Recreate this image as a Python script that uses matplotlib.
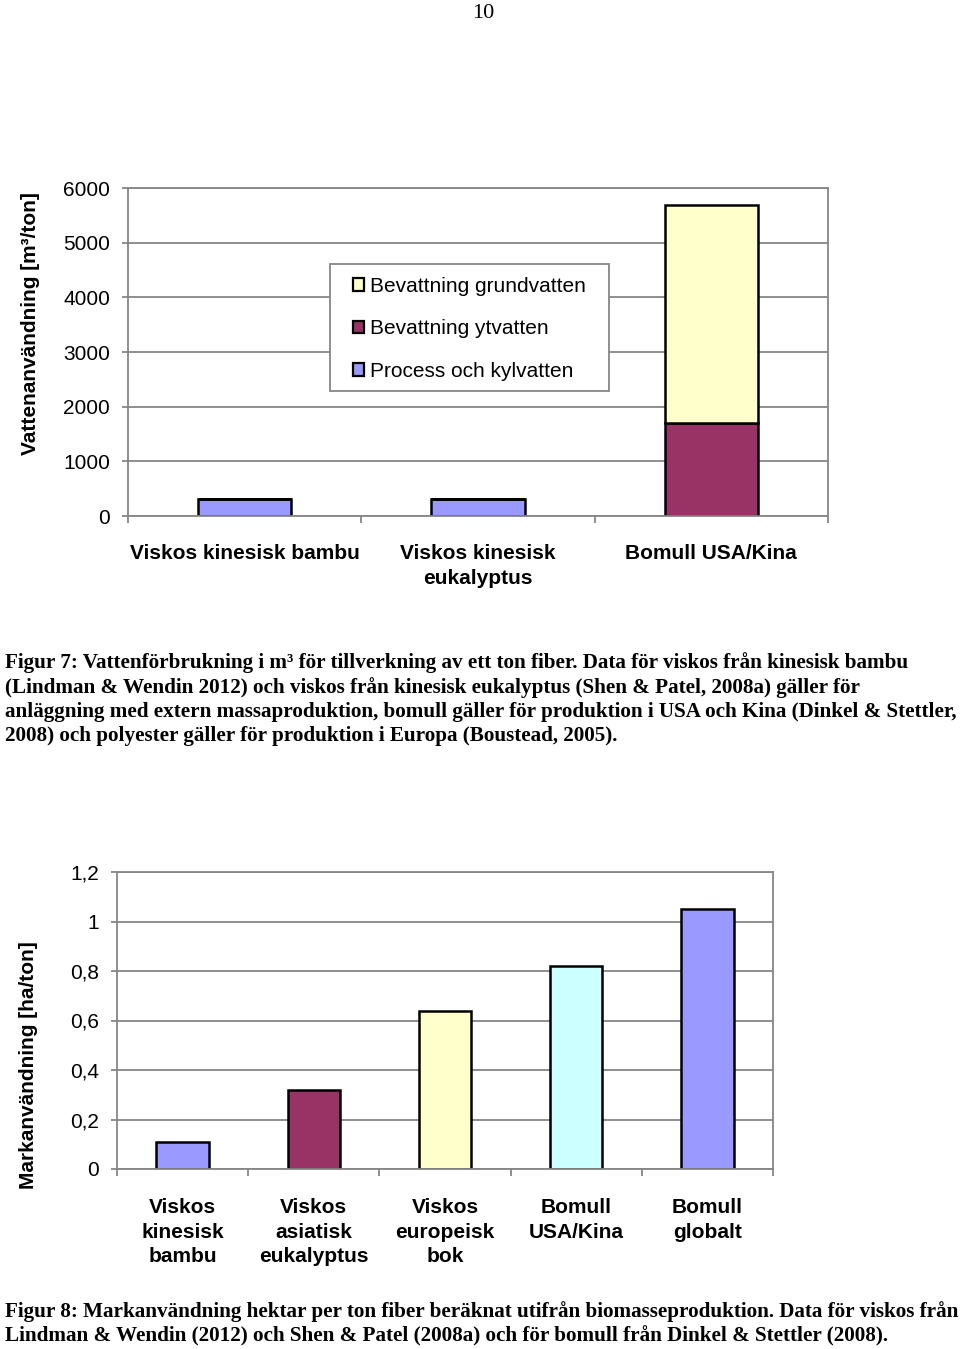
import matplotlib
matplotlib.use("Agg")
import matplotlib.pyplot as plt
import numpy as np
from matplotlib.patches import Rectangle
from matplotlib.ticker import FuncFormatter, FixedLocator

# ---------------- data ----------------
water_categories = ["Viskos kinesisk bambu", "Viskos kinesisk\neukalyptus", "Bomull USA/Kina"]
process_kyl = [320, 305, 0]
ytvatten = [0, 0, 1710]
grundvatten = [0, 0, 3970]
water_series_names = ["Process och kylvatten", "Bevattning ytvatten", "Bevattning grundvatten"]
water_yticks = [0, 1000, 2000, 3000, 4000, 5000, 6000]

land_categories = ["Viskos\nkinesisk\nbambu", "Viskos\nasiatisk\neukalyptus", "Viskos\neuropeisk\nbok",
                   "Bomull\nUSA/Kina", "Bomull\nglobalt"]
land_values = [0.11, 0.32, 0.64, 0.82, 1.05]
land_yticks = [0, 0.2, 0.4, 0.6, 0.8, 1.0, 1.2]

caption7 = [
    "Figur 7: Vattenförbrukning i m\u00b3 för tillverkning av ett ton fiber. Data för viskos från kinesisk bambu",
    "(Lindman & Wendin 2012) och viskos från kinesisk eukalyptus (Shen & Patel, 2008a) gäller för",
    "anläggning med extern massaproduktion, bomull gäller för produktion i USA och Kina (Dinkel & Stettler,",
    "2008) och polyester gäller för produktion i Europa (Boustead, 2005).",
]
caption8 = [
    "Figur 8: Markanvändning hektar per ton fiber beräknat utifrån biomasseproduktion. Data för viskos från",
    "Lindman & Wendin (2012) och Shen & Patel (2008a) och för bomull från Dinkel & Stettler (2008).",
]

# ---------------- style ----------------
W, H = 960, 1349
plt.rcParams['font.family'] = ['Liberation Sans', 'DejaVu Sans']
GRID = '#868686'
C_PROC = '#9999FF'
C_YT = '#993366'
C_GR = '#FFFFCC'
C_CYAN = '#CCFFFF'
FS = 15

fig = plt.figure(figsize=(W / 100, H / 100), dpi=100)


def px_axes(l, t, r, b):
    return fig.add_axes([l / W, 1 - b / H, (r - l) / W, (b - t) / H])


def style_axes(ax, n, pad):
    ax.set_axisbelow(True)
    for s in ax.spines.values():
        s.set_color(GRID)
        s.set_linewidth(1.3)
    ax.grid(axis='y', color=GRID, linewidth=1.3)
    ax.set_xlim(-0.5, n - 0.5)
    ax.xaxis.set_minor_locator(FixedLocator(np.arange(-0.5, n, 1.0)))
    ax.tick_params(axis='x', which='major', length=0, pad=pad, labelsize=FS)
    ax.tick_params(axis='x', which='minor', length=5, color=GRID, width=1.3, direction='out')
    ax.tick_params(axis='y', length=4, color=GRID, width=1.3, pad=9, labelsize=FS)
    for lab in ax.get_xticklabels():
        lab.set_fontweight('bold')
        lab.set_linespacing(1.36)


# ---------------- top chart ----------------
ax1 = px_axes(128, 188, 828, 516)
x1 = np.arange(len(water_categories))
kw = dict(width=0.4, edgecolor='black', linewidth=1.8)
b_proc = ax1.bar(x1, process_kyl, color=C_PROC, **kw)
b_yt = ax1.bar(x1, ytvatten, bottom=process_kyl, color=C_YT, **kw)
bottom_gr = np.array(process_kyl) + np.array(ytvatten)
b_gr = ax1.bar(x1, grundvatten, bottom=bottom_gr, color=C_GR, **kw)
ax1.set_ylim(0, 6000)
ax1.set_yticks(water_yticks)
ax1.set_xticks(x1)
ax1.set_xticklabels(water_categories)
style_axes(ax1, len(water_categories), 20.5)
ax1.set_ylabel("Vattenanvändning [m\u00b3/ton]", fontsize=FS, fontweight='bold')
ax1.yaxis.set_label_coords(-0.126, 0.588)

# legend box
box = Rectangle((330 / W, 1 - 391 / H), (609 - 330) / W, (391 - 264) / H,
                transform=fig.transFigure, facecolor='white', edgecolor=GRID,
                linewidth=1.3, zorder=5, clip_on=False)
ax1.add_patch(box)
leg = ax1.legend([b_gr, b_yt, b_proc], [water_series_names[2], water_series_names[1], water_series_names[0]],
                 loc='upper left', bbox_to_anchor=(353 / W, 1 - 277 / H),
                 bbox_transform=fig.transFigure, frameon=False, fontsize=FS,
                 handlelength=0.55, handleheight=0.55, handletextpad=0.25,
                 labelspacing=1.12, borderpad=0, borderaxespad=0)
leg.set_zorder(6)
for h in leg.legend_handles:
    h.set_linewidth(1.6)

# ---------------- bottom chart ----------------
ax2 = px_axes(117, 872, 773, 1169)
x2 = np.arange(len(land_categories))
ax2.bar(x2, land_values, color=[C_PROC, C_YT, C_GR, C_CYAN, C_PROC], **kw)
ax2.set_ylim(0, 1.2)
ax2.set_yticks(land_yticks)
ax2.yaxis.set_major_formatter(FuncFormatter(lambda v, p: ("%g" % round(v, 2)).replace('.', ',')))
ax2.set_xticks(x2)
ax2.set_xticklabels(land_categories)
style_axes(ax2, len(land_categories), 21)
ax2.set_ylabel("Markanvändning [ha/ton]", fontsize=FS, fontweight='bold')
ax2.yaxis.set_label_coords(-0.12, 0.35)

# ---------------- texts ----------------
serif = ['Liberation Serif', 'DejaVu Serif']
fig.text(483 / W, 1 - 13 / H, "10", ha='center', va='center', fontsize=16, family=serif)
for i, line in enumerate(caption7):
    fig.text(5 / W, 1 - (663 + 24.4 * i) / H, line, ha='left', va='center',
             fontsize=15.2, fontweight='bold', family=serif)
for i, line in enumerate(caption8):
    fig.text(5 / W, 1 - (1312 + 24.4 * i) / H, line, ha='left', va='center',
             fontsize=15.2, fontweight='bold', family=serif)

fig.savefig("out.png", dpi=100, facecolor='white')
